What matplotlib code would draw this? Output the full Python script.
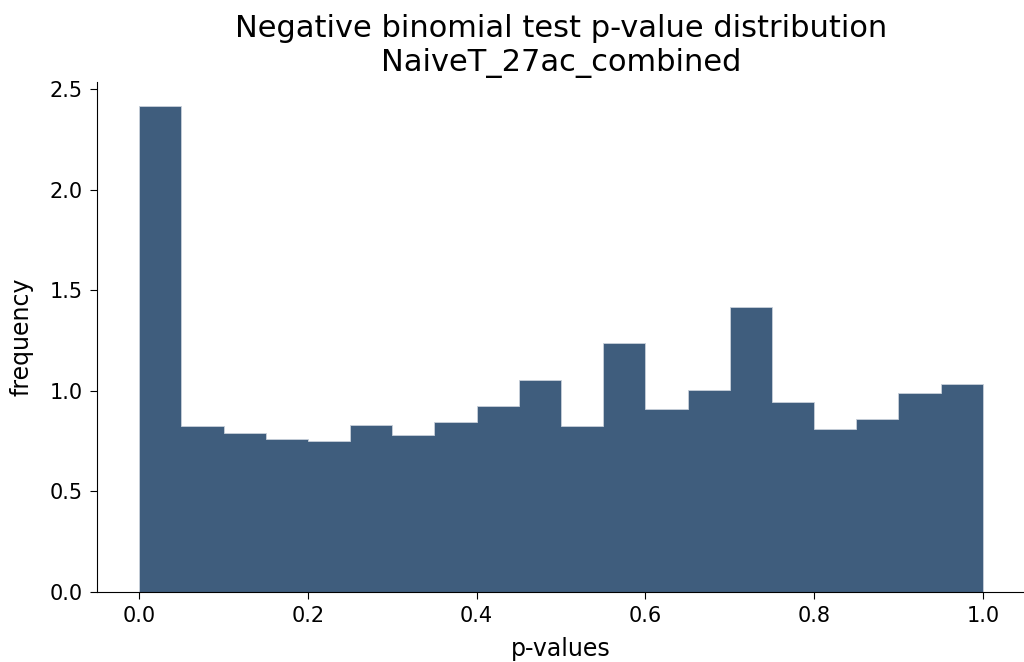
import numpy as np
import matplotlib
matplotlib.use("Agg")
import matplotlib.pyplot as plt

bin_edges = np.linspace(0, 1, 21)
density = [2.415, 0.827, 0.792, 0.759, 0.752, 0.832, 0.779, 0.845, 0.924, 1.055,
           0.825, 1.240, 0.911, 1.005, 1.419, 0.944, 0.812, 0.858, 0.989, 1.035]
title = "Negative binomial test p-value distribution\nNaiveT_27ac_combined"

fig = plt.figure(figsize=(10.24, 6.62), dpi=100)
ax = fig.add_axes([97/1024, 1-592/662, (1025-97)/1024, (592-82)/662])
ax.hist(bin_edges[:-1], bins=bin_edges, weights=density, color="#3f5d7d",
        histtype="stepfilled", edgecolor="#c8d0da", linewidth=0.6)
ax.set_title(title, fontsize=22, pad=8)
ax.set_xlabel("p-values", fontsize=17, labelpad=8)
ax.set_ylabel("frequency", fontsize=17, labelpad=12)
ax.tick_params(labelsize=15, length=5, pad=5)
ax.set_xticks([0.0, 0.2, 0.4, 0.6, 0.8, 1.0])
ax.set_yticks([0.0, 0.5, 1.0, 1.5, 2.0, 2.5])
ax.spines["top"].set_visible(False)
ax.spines["right"].set_visible(False)
fig.savefig("out.png", dpi=100)
